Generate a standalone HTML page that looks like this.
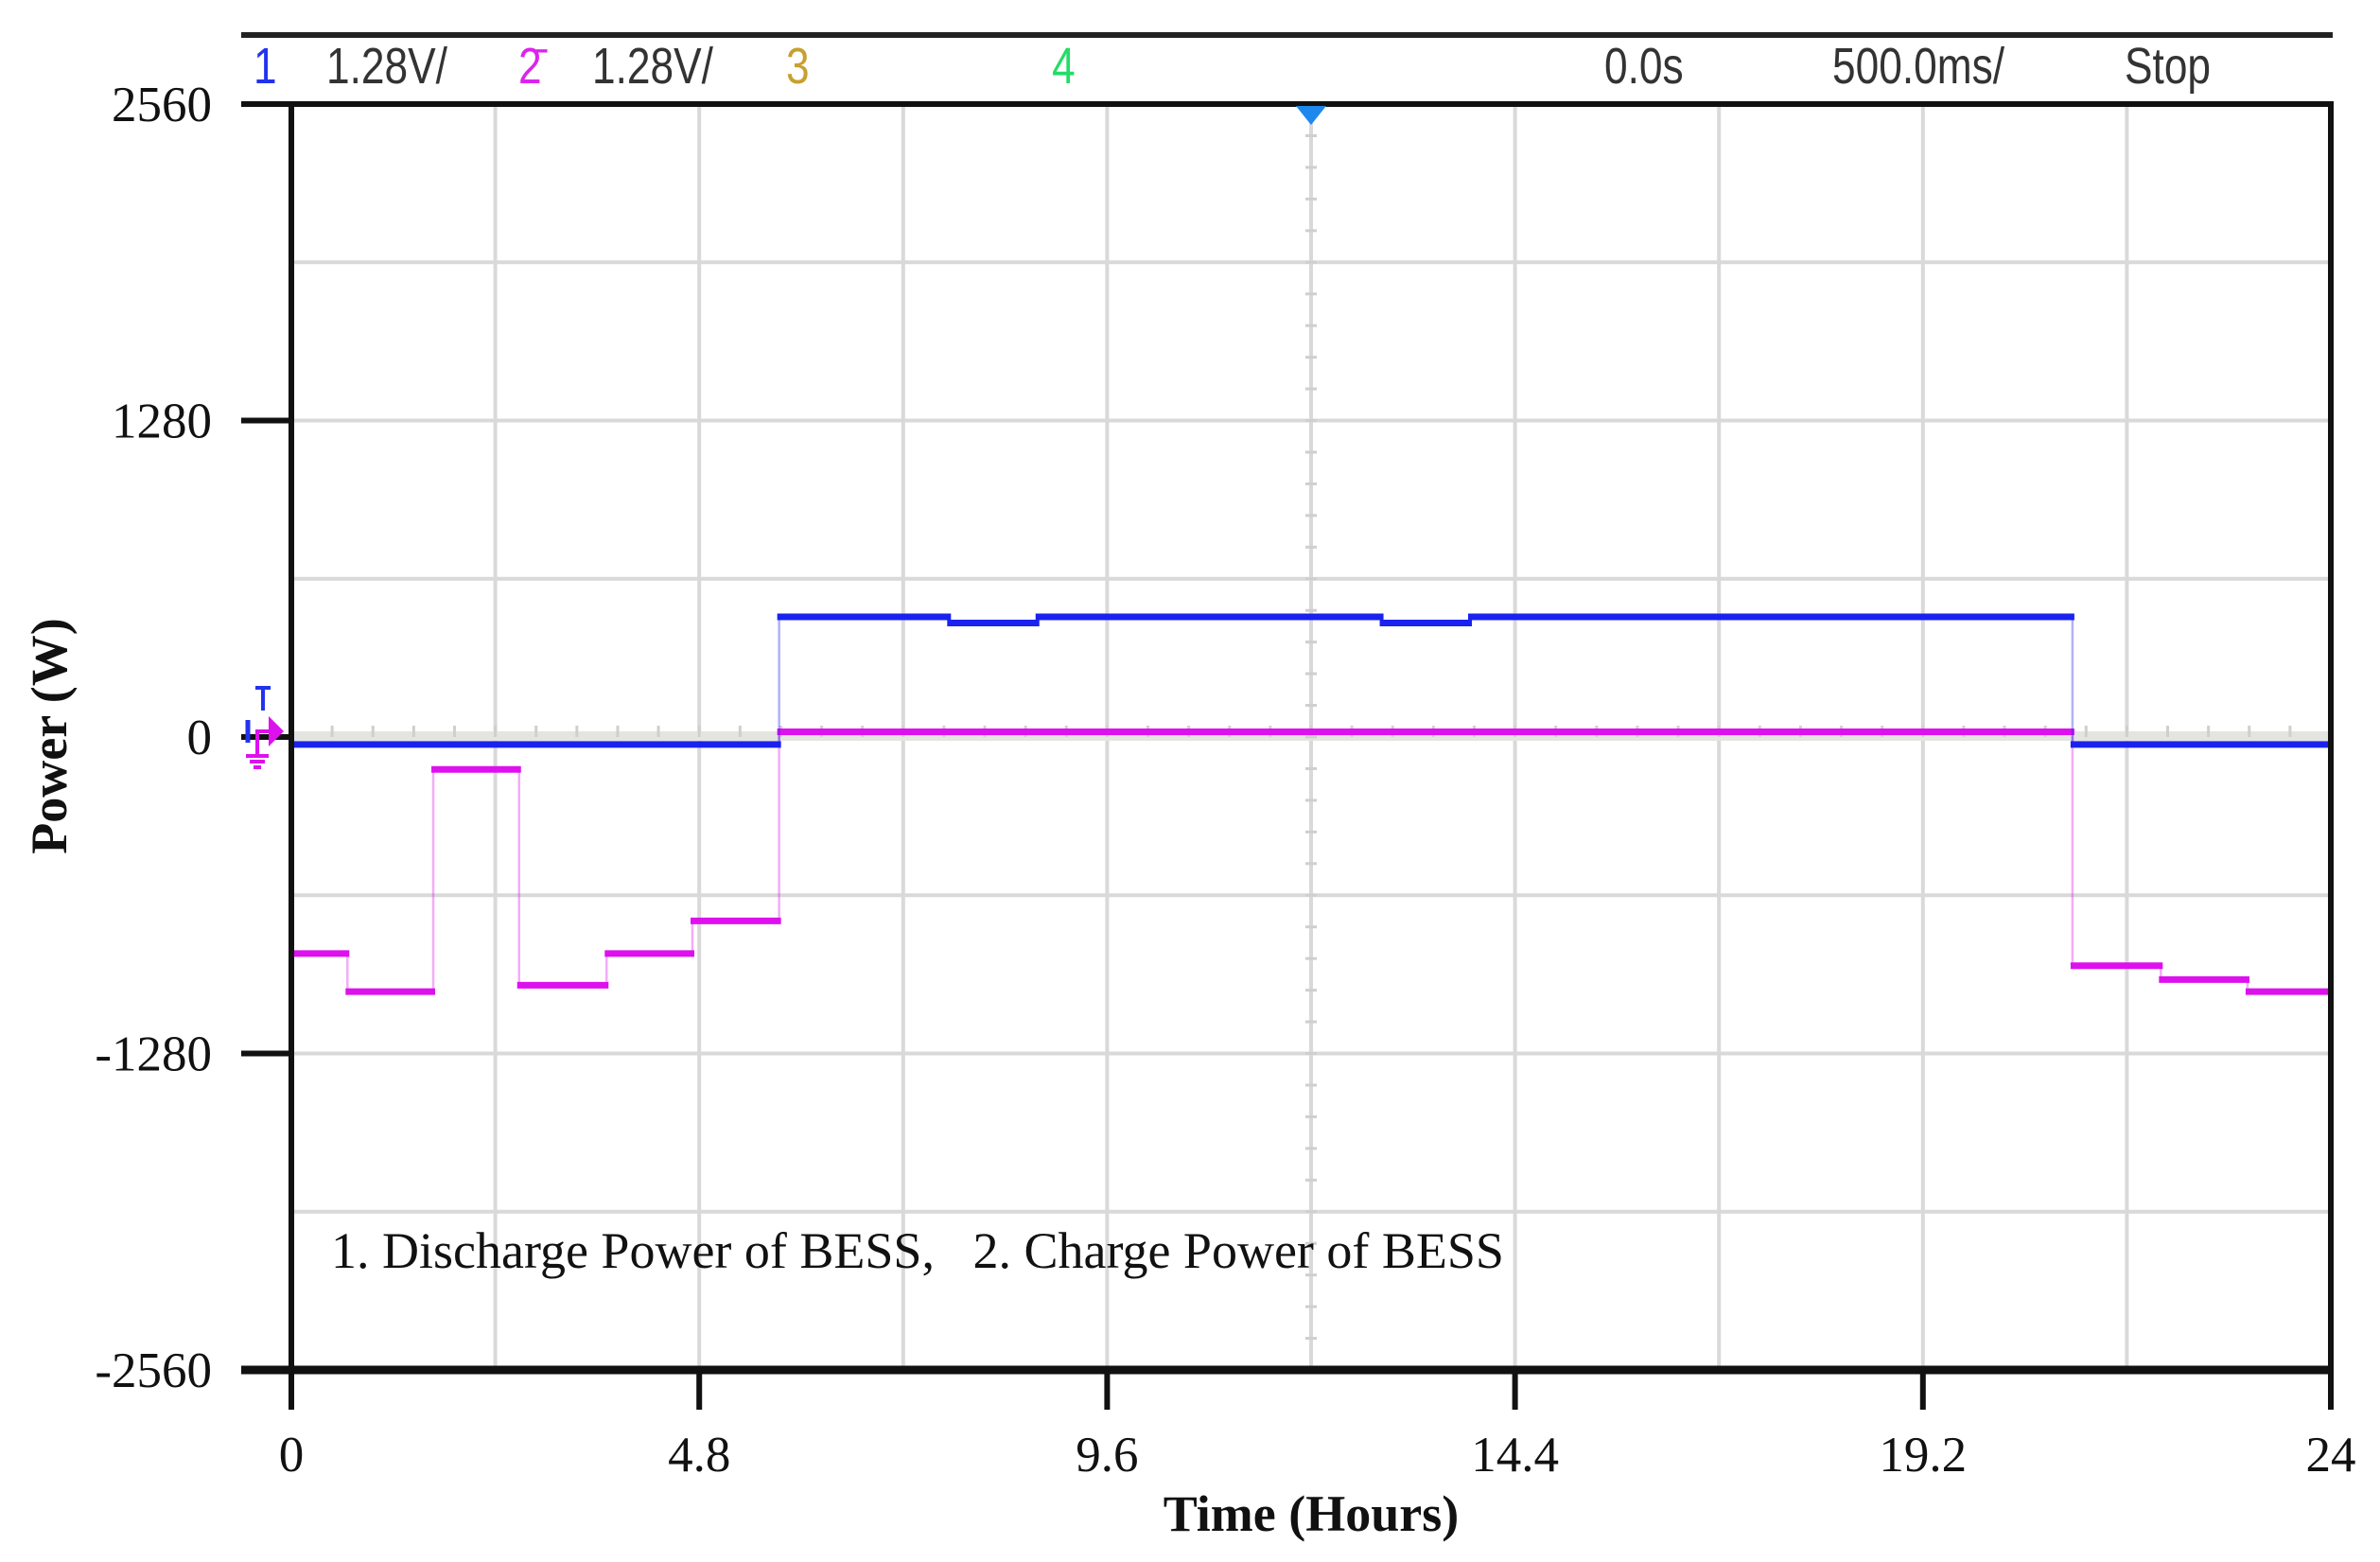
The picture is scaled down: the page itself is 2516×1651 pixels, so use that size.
<!DOCTYPE html>
<html><head><meta charset="utf-8"><style>
html,body{margin:0;padding:0;background:#fff}
svg{display:block}
.hd{font-family:"Liberation Sans",sans-serif;font-size:54px}
.tk{font-family:"Liberation Serif",serif;font-size:53px;fill:#111}
.ax{font-family:"Liberation Serif",serif;font-size:54px;font-weight:bold;fill:#111}
</style></head><body>
<svg id="chart" width="2516" height="1651" viewBox="0 0 2516 1651" xmlns="http://www.w3.org/2000/svg">
  <g>
    <line x1="255" y1="37" x2="2466" y2="37" stroke="#222" stroke-width="6"/>
    <g class="hd" fill="#333">
      <text transform="translate(268,88) scale(0.82,1)" fill="#2233ee">1</text>
      <text transform="translate(345,88) scale(0.82,1)">1.28V/</text>
      <text transform="translate(548,88) scale(0.82,1)" fill="#dd22ee">2̄</text>
      <text transform="translate(626,88) scale(0.82,1)">1.28V/</text>
      <text transform="translate(831,88) scale(0.82,1)" fill="#c8a030">3</text>
      <text transform="translate(1112,88) scale(0.82,1)" fill="#22dd66">4</text>
      <text transform="translate(1696,88) scale(0.82,1)">0.0s</text>
      <text transform="translate(1937,88) scale(0.82,1)">500.0ms/</text>
      <text transform="translate(2246,88) scale(0.82,1)">Stop</text>
    </g>
  </g>
  <g id="grid"></g>
  <g id="series"></g>
  <g id="axes"></g>
  <text x="350" y="1340" xml:space="preserve" style="font-family:'Liberation Serif',serif;font-size:54px;white-space:pre" fill="#111">1. Discharge Power of BESS,   2. Charge Power of BESS</text>
  <text class="ax" transform="translate(70,778) rotate(-90)" text-anchor="middle">Power (W)</text>
  <text class="ax" x="1386" y="1618" text-anchor="middle">Time (Hours)</text>
</svg>
<script>
const xTicks = [0, 4.8, 9.6, 14.4, 19.2, 24];
const yTicks = [2560, 1280, 0, -1280, -2560];
const dischargeTimes = [0, 5.74, 7.74, 8.78, 12.83, 13.87, 20.96, 24];
const dischargeValues = [-30, 486, 461, 486, 461, 486, -30];
const chargeTimes = [0, 0.66, 1.67, 2.68, 3.71, 4.72, 5.74, 20.96, 22.0, 23.02, 24];
const chargeValues = [-876, -1030, -131, -1004, -876, -744, 21, -925, -981, -1030];

const L=308, R=2464, T=110, B=1448;
const xs = t => L + (t/24)*(R-L);
const ys = v => T + (2560 - v)/5120*(B-T);
const NS="http://www.w3.org/2000/svg";
function mk(tag, attrs, parent){const e=document.createElementNS(NS,tag);for(const k in attrs)e.setAttribute(k,attrs[k]);parent.appendChild(e);return e;}
const grid=document.getElementById('grid'), axes=document.getElementById('axes'), ser=document.getElementById('series');

for(let i=1;i<10;i++){const x=L+i*(R-L)/10;
  const l=mk('line',{x1:x,y1:T,x2:x,y2:B,stroke:'#d9d9d9','stroke-width':4},grid);
  
  }
for(let i=1;i<8;i++){const y=T+i*(B-T)/8;
  const l=mk('line',{x1:L,y1:y,x2:R,y2:y,stroke:'#d9d9d9','stroke-width':4},grid);
  
  }
const zb=mk('rect',{x:L,y:ys(0)-6,width:R-L,height:10,fill:'#e4e4e0'},grid);


const cx=xs(12);
for(let i=1;i<40;i++){const y=T+i*(B-T)/40; mk('line',{x1:cx-6,y1:y,x2:cx+6,y2:y,stroke:'#cfcfcf','stroke-width':3},grid);}
for(let i=1;i<50;i++){const x=L+i*(R-L)/50; mk('line',{x1:x,y1:ys(0)-12,x2:x,y2:ys(0),stroke:'#cfcfcf','stroke-width':3},grid);}

function step(times, vals, color, name){
  const g=mk('g',{},ser);
  
  
  for(let i=0;i<vals.length;i++){
    mk('line',{x1:xs(times[i])-2,y1:ys(vals[i]),x2:xs(times[i+1])+2,y2:ys(vals[i]),stroke:color,'stroke-width':7},g);
    if(i>0) mk('line',{x1:xs(times[i]),y1:ys(vals[i-1]),x2:xs(times[i]),y2:ys(vals[i]),stroke:color,'stroke-width':2.5,'stroke-opacity':0.35},g);
  }
}
step(chargeTimes, chargeValues, '#dd11ee', 'charge-power-line');
step(dischargeTimes, dischargeValues, '#1a22ee', 'discharge-power-line');

const box=mk('rect',{x:L,y:T,width:R-L,height:B-T,fill:'none',stroke:'#111','stroke-width':6},axes);


mk('line',{x1:255,y1:B,x2:R,y2:B,stroke:'#111','stroke-width':9},axes);
mk('line',{x1:255,y1:T,x2:R,y2:T,stroke:'#111','stroke-width':6},axes);
yTicks.forEach(v=>{const y=ys(v);
  mk('line',{x1:255,y1:y,x2:L,y2:y,stroke:'#111','stroke-width':6},axes);
  const t=mk('text',{x:224,y:y+18,'text-anchor':'end',class:'tk'},axes);
  t.textContent=v;
  
  });
xTicks.forEach(v=>{const x=xs(v);
  mk('line',{x1:x,y1:B,x2:x,y2:1490,stroke:'#111','stroke-width':6},axes);
  const t=mk('text',{x:x,y:1555,'text-anchor':'middle',class:'tk'},axes);
  t.textContent=v;
  
  });
const tr=mk('path',{d:`M${cx-16} ${T+2} L${cx+16} ${T+2} L${cx} ${T+22} Z`,fill:'#1e88ee'},axes);


const z=ys(0);
const gm=mk('g',{},axes);


mk('path',{d:`M${L-8} ${z-6} l-16 -16 v32 z`,fill:'#dd11ee'},gm);
mk('path',{d:`M${L-24} ${z-6} h-12 v26 M${L-48} ${z+20} h24 M${L-44} ${z+26} h16 M${L-40} ${z+32} h8`,stroke:'#dd11ee','stroke-width':4,fill:'none'},gm);
mk('path',{d:`M${L-38} ${z-52} h16 M${L-30} ${z-52} v24`,stroke:'#2233ee','stroke-width':4,fill:'none'},gm);
mk('path',{d:`M${L-46} ${z-18} v24`,stroke:'#2233ee','stroke-width':5,fill:'none'},gm);
</script>
</body></html>
